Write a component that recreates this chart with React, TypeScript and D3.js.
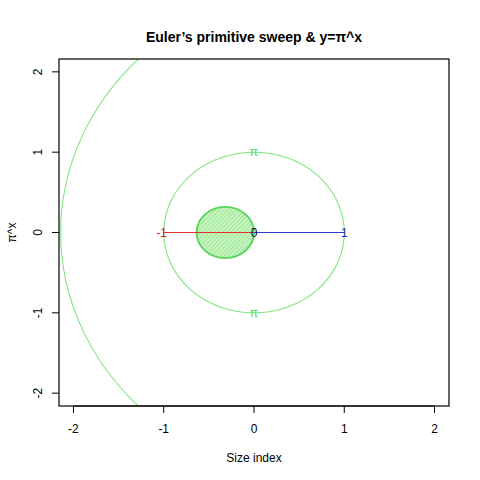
import React from "react";
import * as d3 from "d3";

// circles: centre x, centre y, radius
const circleCx = [1, 0, -0.318];
const circleCy = [0, 0, 0];
const circleR = [3.1416, 1, 0.318];
const circleFilled = [false, false, true];

// segments along the x axis
const segFrom = [-1, 0];
const segTo = [0, 1];
const segColors = ["#e03030", "#2a3fd0"];

// point labels
const labelText = ["-1", "0", "1", "π", "π"];
const labelX = [-1, 0, 1, 0, 0];
const labelY = [0, 0, 0, 1, -1];
const labelColors = ["#d02020", "#000000", "#1a2fc0", "#50d850", "#50d850"];

const ticks = [-2, -1, 0, 1, 2];

const W = 480;
const H = 480;
const left = 59;
const right = 449;
const top = 59;
const bottom = 406;

const App = () => {
  const x = d3.scaleLinear().domain([-2.16, 2.16]).range([left, right]);
  const y = d3.scaleLinear().domain([-2.16, 2.16]).range([bottom, top]);
  const font = "'Liberation Sans', Arial, Helvetica, sans-serif";

  return (
    <svg width={W} height={H} style={{ position: "absolute", left: 0, top: 0 }} fontFamily={font}>
      <defs>
        <clipPath id="plotClip">
          <rect x={left} y={top} width={right - left} height={bottom - top} />
        </clipPath>
        <pattern id="hatch" width={3} height={3} patternUnits="userSpaceOnUse" patternTransform="rotate(45)">
          <rect width={3} height={3} fill="#c8f4c0" />
          <line x1={0} y1={0} x2={0} y2={3} stroke="#72dc72" strokeWidth={1} />
        </pattern>
      </defs>
      <rect width={W} height={H} fill="#ffffff" />

      <g clipPath="url(#plotClip)">
        {circleCx.map((cx, i) => (
          <ellipse
            key={i}
            cx={x(cx)}
            cy={y(circleCy[i])}
            rx={x(circleR[i]) - x(0)}
            ry={y(0) - y(circleR[i])}
            fill={circleFilled[i] ? "url(#hatch)" : "none"}
            stroke={circleFilled[i] ? "#55d455" : "#80e680"}
            strokeWidth={circleFilled[i] ? 1.8 : 1.1}
          />
        ))}
        {segFrom.map((s, i) => (
          <line
            key={i}
            x1={x(s)}
            x2={x(segTo[i])}
            y1={y(0)}
            y2={y(0)}
            stroke={segColors[i]}
            strokeWidth={1}
          />
        ))}
        {labelText.map((t, i) => (
          <text
            key={i}
            x={x(labelX[i]) + (t === "-1" ? -2 : 0)}
            y={y(labelY[i])}
            dy="0.36em"
            textAnchor="middle"
            fontSize={12}
            fill={labelColors[i]}
          >
            {t}
          </text>
        ))}
      </g>

      <rect x={left} y={top} width={right - left} height={bottom - top} fill="none" stroke="#000" strokeWidth={1.2} />

      {/* x axis */}
      <line x1={x(-2)} x2={x(2)} y1={bottom} y2={bottom} stroke="#000" />
      {ticks.map((t) => (
        <g key={"x" + t}>
          <line x1={x(t)} x2={x(t)} y1={bottom} y2={bottom + 7} stroke="#000" />
          <text x={x(t)} y={429} dy="0.35em" textAnchor="middle" fontSize={12}>
            {t}
          </text>
        </g>
      ))}
      {/* y axis */}
      {ticks.map((t) => (
        <g key={"y" + t}>
          <line x1={left} x2={left - 7} y1={y(t)} y2={y(t)} stroke="#000" />
          <text
            transform={`translate(38,${y(t)}) rotate(-90)`}
            dy="0.35em"
            textAnchor="middle"
            fontSize={12}
          >
            {t}
          </text>
        </g>
      ))}

      <text x={(left + right) / 2} y={37} dy="0.35em" textAnchor="middle" fontSize={14} fontWeight="bold">
        Euler’s primitive sweep &amp; y=π^x
      </text>
      <text x={(left + right) / 2} y={458} dy="0.35em" textAnchor="middle" fontSize={12}>
        Size index
      </text>
      <text transform={`translate(12,${(top + bottom) / 2}) rotate(-90)`} dy="0.35em" textAnchor="middle" fontSize={12}>
        π^x
      </text>
    </svg>
  );
};

export default App;
